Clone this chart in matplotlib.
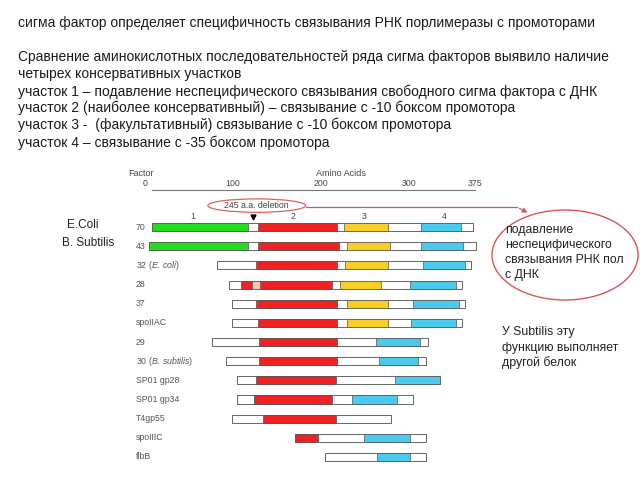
import matplotlib
matplotlib.use("Agg")
import matplotlib.pyplot as plt
from matplotlib.patches import Ellipse, FancyArrowPatch
from matplotlib.lines import Line2D

plt.rcParams["font.family"] = ["Liberation Sans", "DejaVu Sans"]
plt.rcParams["mathtext.fontset"] = "custom"
plt.rcParams["mathtext.it"] = "Liberation Sans:italic"
plt.rcParams["mathtext.rm"] = "Liberation Sans"

# --- data (amino acid positions) ---
factors = ["70", "43", r"32 ($\mathit{E.\,coli}$)", "28", "37", "spoIIAC", "29",
           r"30 ($\mathit{B.\,subtilis}$)", "SP01 gp28", "SP01 gp34", "T4gp55",
           "spoIIIC", "flbB"]
seq_start = [8, 4, 82, 95, 99, 99, 76, 92, 104, 104, 99, 171, 204]
seq_end = [373, 376, 370, 360, 364, 360, 322, 319, 335, 304, 279, 319, 319]
region1 = [(8, 117), (4, 117), None, None, None, None, None, None, None, None, None, None, None]
region2 = [(128, 218), (128, 220), (126, 218), (131, 213), (126, 218), (128, 218),
           (130, 218), (130, 218), (126, 217), (124, 213), (134, 217), (171, 197), None]
region3 = [(226, 276), (229, 278), (227, 276), (222, 268), (229, 276), (230, 276),
           None, None, None, None, None, None, None]
region4 = [(314, 359), (314, 361), (316, 364), (301, 353), (305, 357), (302, 353),
           (262, 312), (266, 310), (284, 335), (235, 286), None, (249, 301), (264, 301)]
row28_red = (109, 122)
row28_pink = (122, 131)
aa_ticks = [0, 100, 200, 300, 375]
region_names = ["1", "2", "3", "4"]
region_label_pos = [54, 168, 249, 340]
deletion_pos = 123

top_lines = [
    "сигма фактор определяет специфичность связывания РНК порлимеразы с промоторами",
    "",
    "Сравнение аминокислотных последовательностей ряда сигма факторов выявило наличие",
    "четырех консервативных участков",
    "участок 1 – подавление неспецифического связывания свободного сигма фактора с ДНК",
    "участок 2 (наиболее консервативный) – связывание с -10 боксом промотора",
    "участок 3 -  (факультативный) связывание с -10 боксом промотора",
    "участок 4 – связывание с -35 боксом промотора",
]

W, H = 640, 480


def fx(px):
    return px / W


def fy(py):
    return 1 - py / H


fig = plt.figure(figsize=(6.4, 4.8), dpi=100)

# slide text
line_y = [23, 40, 57, 74, 92, 108, 125, 143]
for txt, y in zip(top_lines, line_y):
    fig.text(fx(18), fy(y), txt, fontsize=10.0, color="#1a1a1a", va="center", ha="left")

# diagram axes
ax = fig.add_axes([fx(120), fy(475), fx(480) - fx(120), fy(160) - fy(475)])
ax.set_xlim(-28.4, 380.7)
ax.set_ylim(12.94, -3.5)
ax.patch.set_visible(False)
for s in ["left", "right", "bottom"]:
    ax.spines[s].set_visible(False)
ax.spines["top"].set_position(("data", -1.93))
ax.spines["top"].set_bounds(8, 375)
ax.spines["top"].set_color("#777777")
ax.spines["top"].set_linewidth(0.8)
ax.xaxis.tick_top()
ax.set_xticks(aa_ticks)
ax.set_xticklabels([str(t) for t in aa_ticks])
ax.tick_params(axis="x", length=0, pad=1.5, labelsize=6.3, colors="#444444")
ax.set_yticks([])

bar_h = 0.42
edge = "#555555"
colors = {"r1": "#22dd22", "r2": "#ee2222", "r3": "#f7cf26", "r4": "#4cc9ee"}

for i, name in enumerate(factors):
    ax.barh(i, seq_end[i] - seq_start[i], left=seq_start[i], height=bar_h,
            color="white", edgecolor="#666666", linewidth=0.7)
    for key, reg in zip(["r1", "r2", "r3", "r4"], [region1, region2, region3, region4]):
        if reg[i] is not None:
            a, b = reg[i]
            ax.barh(i, b - a, left=a, height=bar_h, color=colors[key],
                    edgecolor=edge, linewidth=0.5)
    ax.text(-10.2, i, name, fontsize=6.3, color="#555555", ha="left", va="center")

ax.barh(3, row28_red[1] - row28_red[0], left=row28_red[0], height=bar_h,
        color=colors["r2"], edgecolor=edge, linewidth=0.5)
ax.barh(3, row28_pink[1] - row28_pink[0], left=row28_pink[0], height=bar_h,
        color="#f8c2b4", edgecolor=edge, linewidth=0.5)

for nm, pos in zip(region_names, region_label_pos):
    ax.text(pos, -0.55, nm, fontsize=6.3, color="#444444", ha="center", va="center")

ax.plot(deletion_pos, -0.5, marker="v", color="black", ms=3.5, clip_on=False)

# deletion ellipse
ax.add_patch(Ellipse((127, -1.12), 111, 0.7, fill=False, edgecolor="#e06060", linewidth=0.9))
ax.text(127, -1.12, "245 a.a. deletion", fontsize=6.3, color="#444444",
        ha="center", va="center")

fig.text(fx(128), fy(173), "Factor", fontsize=6.5, color="#444444", ha="left", va="center")
fig.text(fx(341), fy(173), "Amino Acids", fontsize=6.5, color="#444444", ha="center", va="center")

# callout
red = "#d9535f"
fig.add_artist(Line2D([fx(306), fx(517)], [fy(207), fy(207)], color=red, lw=0.9,
                      transform=fig.transFigure))
fig.add_artist(FancyArrowPatch((fx(517), fy(207)), (fx(530), fy(214)),
                               transform=fig.transFigure, arrowstyle="-|>",
                               mutation_scale=7, color=red, lw=0.9))
fig.add_artist(Ellipse((fx(565), fy(255)), 146 / W, 90 / H, transform=fig.transFigure,
                       fill=False, edgecolor=red, linewidth=1.0))

bubble = ["подавление", "неспецифического", "связывания РНК пол", "с ДНК"]
for k, t in enumerate(bubble):
    fig.text(fx(505), fy(230 + 15 * k), t, fontsize=8.8, color="#222222",
             ha="left", va="center")

note = ["У Subtilis эту", "функцию выполняет", "другой белок"]
for k, t in enumerate(note):
    fig.text(fx(502), fy(332 + 15.5 * k), t, fontsize=8.8, color="#222222",
             ha="left", va="center")

fig.text(fx(67), fy(225), "E.Coli", fontsize=8.5, color="#222222", ha="left", va="center")
fig.text(fx(62), fy(243), "B. Subtilis", fontsize=8.5, color="#222222", ha="left", va="center")

fig.savefig("out.png", dpi=100)
